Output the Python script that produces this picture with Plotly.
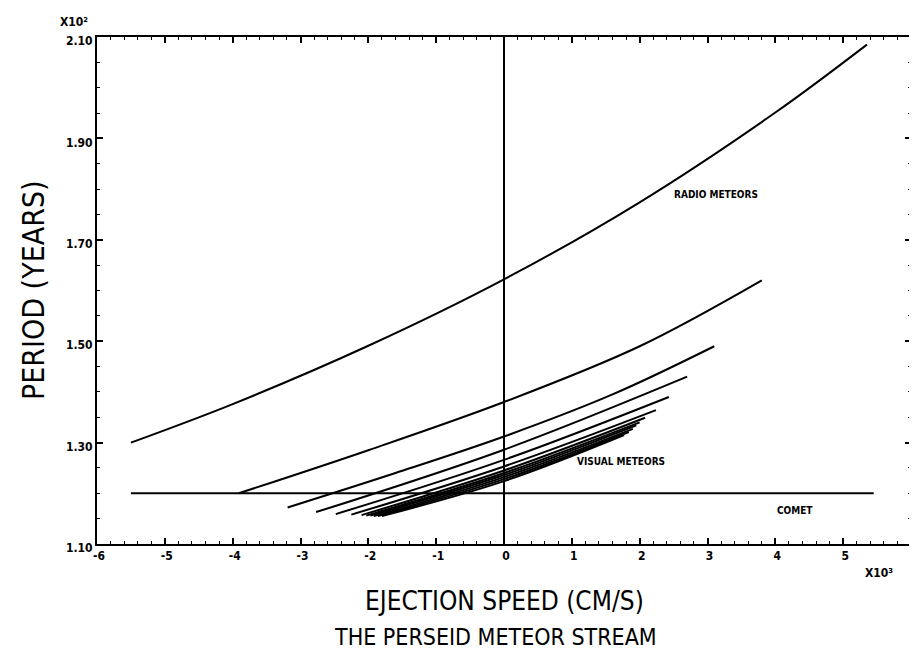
import plotly.graph_objects as go

# ---- data (x in units of 10^3 cm/s, period in units of 10^2 years) ----
radio_x = [-5.5, -4.0, -2.0, 0.0, 2.0, 4.0, 5.35]
radio_y = [1.300, 1.376, 1.491, 1.622, 1.774, 1.951, 2.085]

comet_x = [-5.5, 5.45]
comet_y = [1.20, 1.20]

c2_x = [-3.91, -2.0, 0.0, 2.0, 3.8]
c2_y = [1.200, 1.285, 1.380, 1.490, 1.620]

c3_x = [-3.19, -1.6, 0.0, 1.6, 3.1]
c3_y = [1.172, 1.240, 1.312, 1.395, 1.490]

c4_x = [-2.77, 0.0, 2.7]
c4_y = [1.163, 1.286, 1.430]

c5_x = [-2.48, 0.0, 2.43]
c5_y = [1.159, 1.266, 1.390]

c6_x = [-2.25, 0.0, 2.24]
c6_y = [1.158, 1.253, 1.364]

bundle_x = [
    [-2.10, 0.0, 2.08],
    [-2.03, 0.0, 2.00],
    [-1.97, 0.0, 1.95],
    [-1.92, 0.0, 1.90],
    [-1.86, 0.0, 1.84],
    [-1.80, 0.0, 1.77],
]
bundle_y = [
    [1.157, 1.245, 1.349],
    [1.156, 1.240, 1.340],
    [1.156, 1.236, 1.334],
    [1.155, 1.232, 1.327],
    [1.155, 1.228, 1.321],
    [1.155, 1.224, 1.315],
]

x_tickvals = [-6, -5, -4, -3, -2, -1, 0, 1, 2, 3, 4, 5, 6]
x_ticktext = ["-6", "-5", "-4", "-3", "-2", "-1", "0", "1", "2", "3", "4", "5", "6"]
y_tickvals = [1.10, 1.30, 1.50, 1.70, 1.90, 2.10]
y_ticktext = ["1.10", "1.30", "1.50", "1.70", "1.90", "2.10"]

labels = [
    ("RADIO METEORS", 3.12, 1.79),
    ("VISUAL METEORS", 1.73, 1.262),
    ("COMET", 4.29, 1.167),
]

LINE = dict(color="black", width=2)
fig = go.Figure()
fig.add_trace(go.Scatter(x=radio_x, y=radio_y, mode="lines", line=dict(LINE, shape="spline")))
fig.add_trace(go.Scatter(x=comet_x, y=comet_y, mode="lines", line=LINE))
for xs, ys in [(c2_x, c2_y), (c3_x, c3_y), (c4_x, c4_y), (c5_x, c5_y), (c6_x, c6_y)]:
    fig.add_trace(go.Scatter(x=xs, y=ys, mode="lines", line=dict(LINE, shape="spline")))
for xs, ys in zip(bundle_x, bundle_y):
    fig.add_trace(go.Scatter(x=xs, y=ys, mode="lines", line=dict(color="black", width=2, shape="spline")))

TICKFONT = dict(family="DejaVu Sans Condensed, DejaVu Sans, sans-serif", size=12, color="black", weight="bold")
TITLEFONT = "DejaVu Sans Condensed, Liberation Sans Narrow, sans-serif"

fig.update_layout(
    width=917, height=651,
    margin=dict(l=89, r=8, t=29, b=115),
    paper_bgcolor="white", plot_bgcolor="white",
    showlegend=False,
    xaxis=dict(range=[-6, 6], tickvals=x_tickvals, ticktext=x_ticktext,
               showgrid=False, zeroline=True, zerolinecolor="black", zerolinewidth=2,
               showline=True, linecolor="black", linewidth=2, mirror="allticks",
               ticks="inside", ticklen=6, tickwidth=1.5, tickcolor="black",
               minor=dict(dtick=0.2, ticks="inside", ticklen=3, tickcolor="black", tickwidth=1),
               tickfont=TICKFONT, ticklabelshift=2),
    yaxis=dict(range=[1.10, 2.10], tickvals=y_tickvals, ticktext=y_ticktext,
               showgrid=False, zeroline=False,
               showline=True, linecolor="black", linewidth=2, mirror="allticks",
               ticks="inside", ticklen=6, tickwidth=1.5, tickcolor="black",
               minor=dict(dtick=0.05, ticks="inside", ticklen=3, tickcolor="black", tickwidth=1),
               tickfont=TICKFONT, ticklabelshift=4),
)

for text, x, y in labels:
    fig.add_annotation(x=x, y=y, text=text, showarrow=False, xanchor="center", yanchor="middle",
                       font=dict(family="DejaVu Sans Condensed, sans-serif", size=10, color="black", weight="bold"))

fig.add_annotation(xref="paper", yref="paper", x=-0.009, y=1.0, yshift=6, xanchor="right", yanchor="bottom",
                   text="X10²", showarrow=False, font=TICKFONT)
fig.add_annotation(xref="paper", yref="paper", x=0.961, y=0, yshift=-20, xanchor="center", yanchor="top",
                   text="X10³", showarrow=False, font=TICKFONT)
fig.add_annotation(xref="paper", yref="paper", x=-0.078, y=0.5, textangle=-90,
                   xanchor="center", yanchor="middle",
                   text="PERIOD (YEARS)", showarrow=False,
                   font=dict(family=TITLEFONT, size=30, color="black"))
fig.add_annotation(xref="paper", yref="paper", x=0.501, y=0, yshift=-40, xanchor="center", yanchor="top",
                   text="EJECTION SPEED (CM/S)", showarrow=False,
                   font=dict(family=TITLEFONT, size=26, color="black"))
fig.add_annotation(xref="paper", yref="paper", x=0.49, y=0, yshift=-78, xanchor="center", yanchor="top",
                   text="THE PERSEID METEOR STREAM", showarrow=False,
                   font=dict(family=TITLEFONT, size=23, color="black"))

fig.write_html("out.html")
